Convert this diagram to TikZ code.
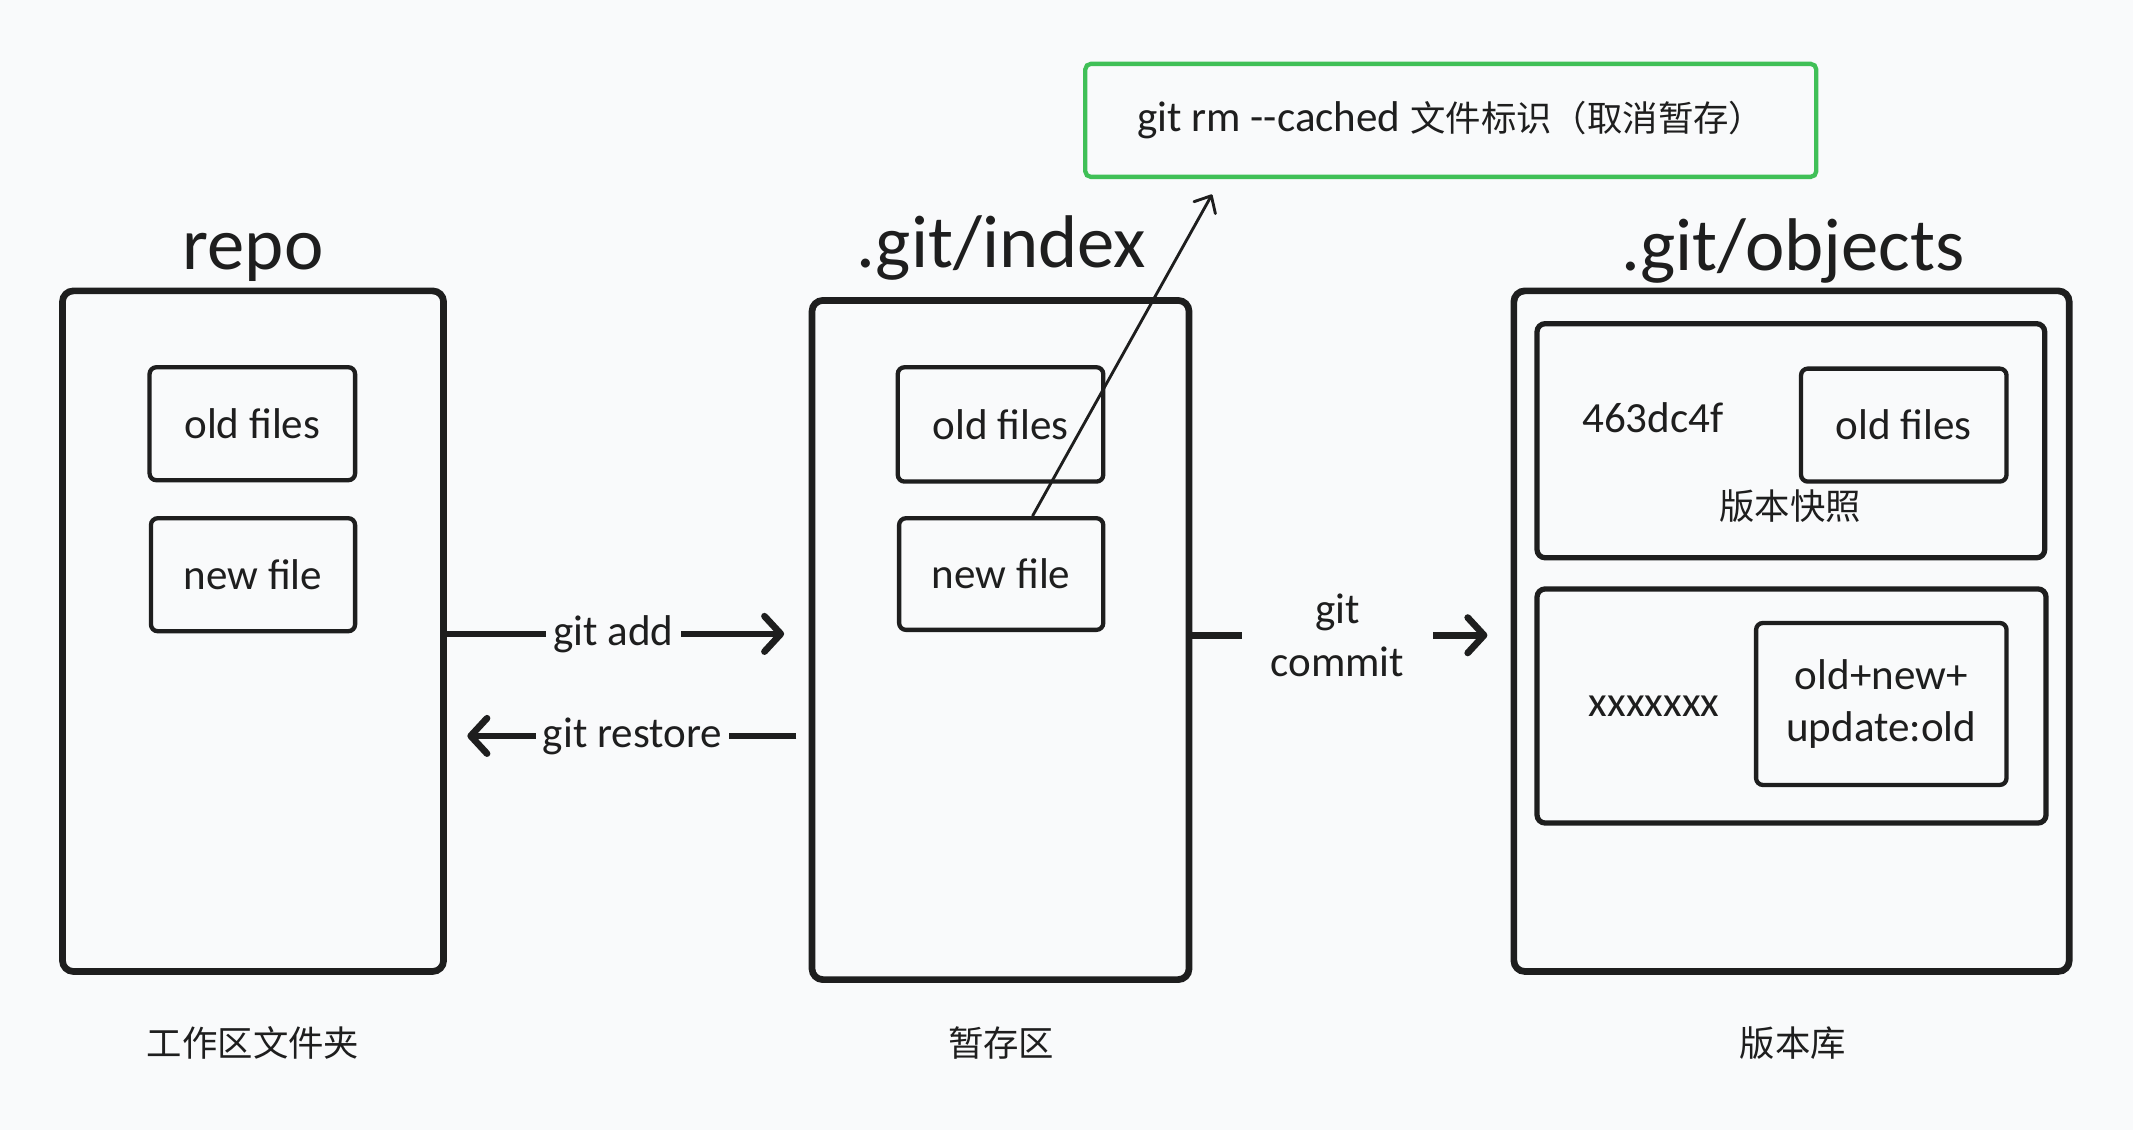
\documentclass[tikz,border=0pt]{standalone}
\usepackage{fontspec}
\setmainfont{Carlito}
\newfontfamily\cjk{Noto Sans CJK SC}
\usetikzlibrary{arrows.meta}

\definecolor{bg}{RGB}{249,250,251}
\definecolor{ink}{RGB}{30,30,30}
\definecolor{rmgreen}{RGB}{64,192,87}
\newcommand\txtsize{\fontsize{9pt}{11pt}\selectfont}
\newcommand\headsize{\fontsize{15.6pt}{18pt}\selectfont}
\newcommand\zhsize{\cjk\fontsize{7.4pt}{9pt}\selectfont}

\begin{document}
\begin{tikzpicture}[x=0.01cm, y=-0.01cm, color=ink, text=ink,
  area/.style={draw, line width=1.4pt, rounded corners=0.08cm},
  snap/.style={draw, line width=1.1pt, rounded corners=0.06cm},
  file/.style={draw, line width=0.9pt, rounded corners=0.05cm, font=\txtsize, align=center},
  title/.style={font=\headsize, anchor=base},
  zone/.style={font=\zhsize},
  cmd/.style={fill=bg, inner sep=1.5pt, font=\txtsize},
  flow/.style={line width=1.4pt, -{Straight Barb[length=1.2mm,width=2.6mm,round]}},
  pull/.style={line width=0.6pt, -{Straight Barb[length=1mm,width=1.8mm,round]}}]

  \fill[bg] (0,0) rectangle (1568,831);
  \useasboundingbox (0,0) rectangle (1568,831);

  \node[area, minimum width=2.8cm, minimum height=5cm] (repo) at (186,464) {};
  \node[area, minimum width=2.77cm, minimum height=4.99cm] (index) at (735.5,470.5) {};
  \node[area, minimum width=4.08cm, minimum height=5cm] (objects) at (1317,464) {};

  \node[title] (repotitle) at (186,198) {repo};
  \node[title] (indextitle) at (736,197) {.git/index};
  \node[title] (objtitle) at (1318,199) {.git/objects};

  \node[file, minimum width=1.51cm, minimum height=0.83cm] (rold) at (185.5,311.5) {old files};
  \node[file, minimum width=1.5cm, minimum height=0.83cm] (rnew) at (186,422.5) {new file};
  \node[file, minimum width=1.51cm, minimum height=0.84cm] (iold) at (735.5,312) {old files};
  \node[file, minimum width=1.5cm, minimum height=0.82cm] (inew) at (736,422) {new file};

  \node[snap, minimum width=3.73cm, minimum height=1.72cm] (snapa) at (1316.5,324) {};
  \node[file, minimum width=1.51cm, minimum height=0.83cm] (oold) at (1399.5,312.5) {old files};
  \node[font=\txtsize] (hasha) at (1215,307) {463dc4f};
  \node[zone] (snaplbl) at (1316,372) {版本快照};

  \node[snap, minimum width=3.74cm, minimum height=1.72cm] (snapb) at (1317,519) {};
  \node[file, minimum width=1.84cm, minimum height=1.19cm] (onew) at (1383,517.5) {old+new+\\update:old};
  \node[font=\txtsize] (hashb) at (1216,519) {xxxxxxx};

  \node[zone] (repozone) at (186,767) {工作区文件夹};
  \node[zone] (indexzone) at (736,767) {暂存区};
  \node[zone] (objzone) at (1318,767) {版本库};

  \node[draw=rmgreen, line width=0.9pt, rounded corners=0.04cm, minimum width=5.37cm, minimum height=0.83cm, font=\txtsize] (rm) at (1066.5,88.5)
    {git rm \mbox{-}\mbox{-}cached {\zhsize 文件标识（取消暂存）}};

  \coordinate (restorey) at (0,541);
  \coordinate (rmtip) at (891,143);

  \draw[flow, shorten >=0.18cm] (repo.east |- 0,466) -- node[cmd, pos=0.46]{git add} (index.west |- 0,466);
  \draw[flow, shorten >=0.15cm, shorten <=0.09cm] (index.west |- restorey) -- node[cmd, pos=0.487]{git restore} (repo.east |- restorey);
  \draw[flow, shorten >=0.17cm] (index.east |- 0,467) -- node[cmd, pos=0.456, inner xsep=6pt, align=center, font={\fontsize{9pt}{11pt}\selectfont}]{git\\commit} (objects.west |- 0,467);
  \draw[pull] ([xshift=0.23cm]inew.north) -- (rmtip);
\end{tikzpicture}
\end{document}
